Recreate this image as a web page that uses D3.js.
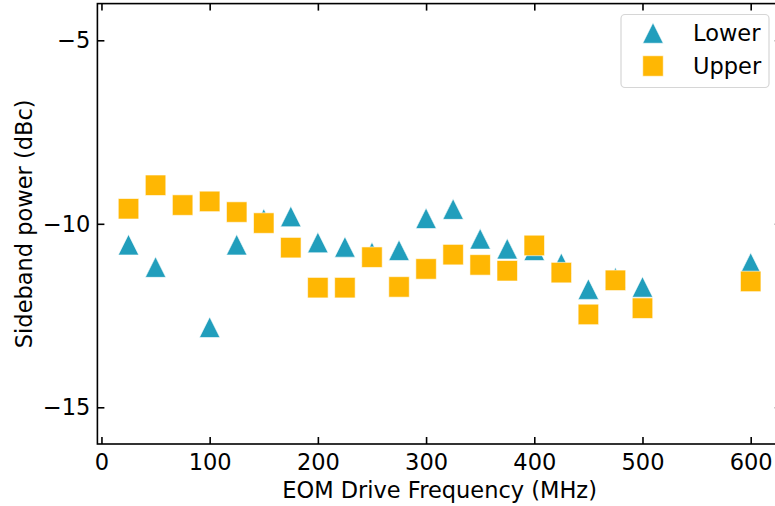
<!DOCTYPE html>
<html>
<head>
<meta charset="utf-8">
<script src="https://cdn.jsdelivr.net/npm/d3@7"></script>
<style>
  html, body { margin: 0; padding: 0; background: #fff; }
  svg { display: block; font-family: "DejaVu Sans", sans-serif; }
</style>
</head>
<body>
<svg id="chart" width="775" height="506"></svg>
<script>
// Sideband power vs EOM drive frequency
const lowerFreq = [25, 50, 100, 125, 150, 175, 200, 225, 250, 275, 300, 325, 350, 375, 400, 425, 450, 475, 500, 600];
const lowerPower = [-10.57, -11.18, -12.82, -10.57, -9.87, -9.80, -10.51, -10.63, -10.78, -10.72, -9.85, -9.60, -10.41, -10.68, -10.72, -11.08, -11.78, -11.47, -11.72, -11.07];
const upperFreq = [25, 50, 75, 100, 125, 150, 175, 200, 225, 250, 275, 300, 325, 350, 375, 400, 425, 450, 475, 500, 600];
const upperPower = [-9.59, -8.95, -9.49, -9.39, -9.68, -9.98, -10.65, -11.74, -11.74, -10.91, -11.72, -11.23, -10.84, -11.12, -11.28, -10.59, -11.33, -12.47, -11.54, -12.30, -11.57];
const xTicks = [0, 100, 200, 300, 400, 500, 600];
const yTicks = [-5, -10, -15];
const seriesNames = ["Lower", "Upper"];
const seriesColors = ["#219ebc", "#ffb703"];

const svg = d3.select("#chart");
const plotLeft = 97.4, plotRight = 781.8, plotTop = 3.6, plotBottom = 444;
const fontSize = 22.5, tickLen = 7, markerSize = 20.5;

const x = d3.scaleLinear().domain([-3.75, 628.75]).range([plotLeft, plotRight]);
const y = d3.scaleLinear().domain([-16, -4]).range([plotBottom, plotTop]);

const triangle = s => `M0,${-s / 2}L${s / 2},${s / 2}L${-s / 2},${s / 2}Z`;
const square = s => `M${-s / 2},${-s / 2}h${s}v${s}h${-s}Z`;

// markers
const plot = svg.append("g");
plot.selectAll("path.lower")
  .data(lowerFreq.map((f, i) => [f, lowerPower[i]]))
  .join("path")
  .attr("class", "lower")
  .attr("d", triangle(markerSize))
  .attr("transform", d => `translate(${x(d[0])},${y(d[1])})`)
  .attr("fill", seriesColors[0])
  .attr("stroke", "#fff").attr("stroke-opacity", 0.6).attr("stroke-width", 1);

plot.selectAll("path.upper")
  .data(upperFreq.map((f, i) => [f, upperPower[i]]))
  .join("path")
  .attr("class", "upper")
  .attr("d", square(markerSize))
  .attr("transform", d => `translate(${x(d[0])},${y(d[1])})`)
  .attr("fill", seriesColors[1])
  .attr("stroke", "#fff").attr("stroke-opacity", 0.6).attr("stroke-width", 1);

// axes with inward ticks on all four sides
function styleAxis(g) {
  g.select(".domain").remove();
  g.selectAll(".tick line").attr("stroke", "#000").attr("stroke-width", 1.6);
  g.selectAll(".tick text").attr("fill", "#000").attr("font-size", fontSize).attr("font-family", "DejaVu Sans, sans-serif");
}
const fmt = d => d < 0 ? "\u2212" + Math.abs(d) : String(d);

svg.append("g").attr("transform", `translate(0,${plotBottom})`)
  .call(d3.axisBottom(x).tickValues(xTicks).tickSize(-tickLen).tickPadding(tickLen + 3).tickFormat(fmt))
  .call(styleAxis);
svg.append("g").attr("transform", `translate(0,${plotTop})`)
  .call(d3.axisTop(x).tickValues(xTicks).tickSize(-tickLen).tickFormat(""))
  .call(styleAxis);
svg.append("g").attr("transform", `translate(${plotLeft},0)`)
  .call(d3.axisLeft(y).tickValues(yTicks).tickSize(-tickLen).tickPadding(7).tickFormat(fmt))
  .call(styleAxis);
svg.append("g").attr("transform", `translate(${plotRight},0)`)
  .call(d3.axisRight(y).tickValues(yTicks).tickSize(-tickLen).tickFormat(""))
  .call(styleAxis);

// frame
svg.append("rect")
  .attr("x", plotLeft).attr("y", plotTop)
  .attr("width", plotRight - plotLeft).attr("height", plotBottom - plotTop)
  .attr("fill", "none").attr("stroke", "#000").attr("stroke-width", 1.6);

// axis titles
svg.append("text")
  .attr("x", (plotLeft + plotRight) / 2).attr("y", 498)
  .attr("text-anchor", "middle").attr("font-size", fontSize)
  .text("EOM Drive Frequency (MHz)");
svg.append("text")
  .attr("transform", `translate(31.5,${(plotTop + plotBottom) / 2}) rotate(-90)`)
  .attr("text-anchor", "middle").attr("font-size", fontSize)
  .text("Sideband power (dBc)");

// legend
const legend = svg.append("g");
legend.append("rect")
  .attr("x", 621).attr("y", 14.5).attr("width", 148).attr("height", 73).attr("rx", 4)
  .attr("fill", "#fff").attr("fill-opacity", 0.8)
  .attr("stroke", "#d6d6d6").attr("stroke-width", 1.2);
const legendShapes = [triangle, square];
seriesNames.forEach((name, i) => {
  const cy = 33 + i * 33;
  legend.append("path")
    .attr("d", legendShapes[i](markerSize))
    .attr("transform", `translate(653,${cy})`)
    .attr("fill", seriesColors[i])
    .attr("stroke", "#fff").attr("stroke-opacity", 0.6).attr("stroke-width", 1);
  legend.append("text")
    .attr("x", 693).attr("y", cy + 8)
    .attr("font-size", fontSize)
    .text(name);
});
</script>
</body>
</html>
